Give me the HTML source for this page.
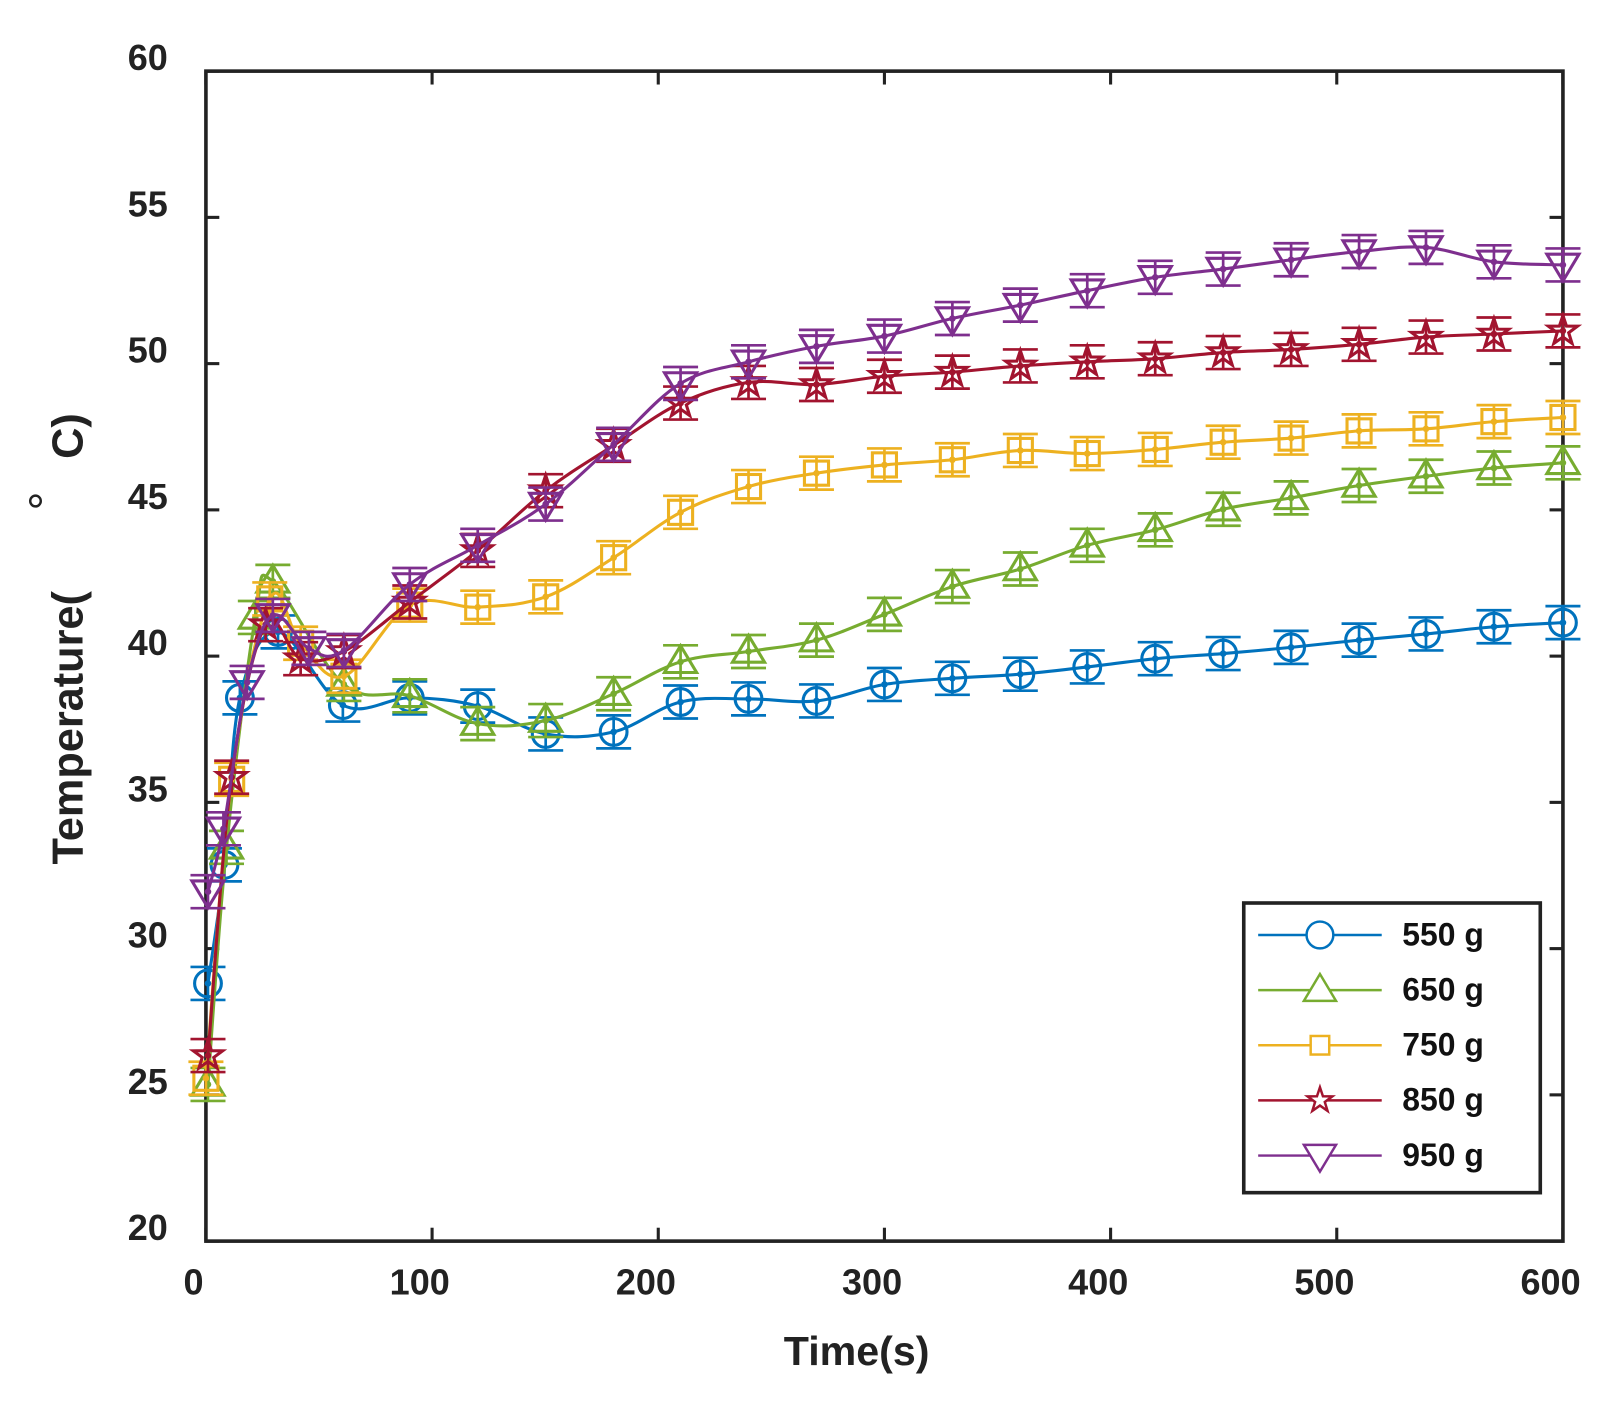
<!DOCTYPE html>
<html><head><meta charset="utf-8"><style>html,body{margin:0;padding:0;background:#fff}svg{display:block}</style></head>
<body>
<svg id="s" width="1614" height="1401" viewBox="0 1 1567.6 1359.1" preserveAspectRatio="none" xmlns="http://www.w3.org/2000/svg" font-family="Liberation Sans, Arial, sans-serif" font-weight="bold">
<rect x="0" y="0" width="1600" height="1400" fill="#fff"/>
<g id="axes"></g>
<g id="data"></g>
<g id="leg"></g>
<text x="832" y="1325" font-size="40" text-anchor="middle" fill="#222">Time(s)</text>
<text transform="translate(80,707) rotate(-90)" font-size="42" text-anchor="middle" fill="#222">Temperature(</text>
<text transform="translate(80,424) rotate(-90)" font-size="42" text-anchor="middle" fill="#222">C)</text>
<text transform="translate(60,487) rotate(-90)" font-size="46" text-anchor="middle" font-weight="normal" fill="#222">°</text>
</svg>
<script>
const NS="http://www.w3.org/2000/svg";
function el(p,t,a){const e=document.createElementNS(NS,t);for(const k in a)e.setAttribute(k,a[k]);p.appendChild(e);return e;}
const ax=document.getElementById('axes'),dg=document.getElementById('data'),lg=document.getElementById('leg');
const L=200,R=1518,T=70,B=1205;
for(let k=0;k<=6;k++){const x=L+(R-L)*k/6;
 el(ax,'line',{x1:x,y1:B,x2:x,y2:B-13,stroke:'#222','stroke-width':3});
 el(ax,'line',{x1:x,y1:T,x2:x,y2:T+13,stroke:'#222','stroke-width':3});
 const t=el(ax,'text',{x:x-12,y:1257,'font-size':35,'text-anchor':'middle',fill:'#222'});t.textContent=k*100;}
for(let k=0;k<=8;k++){const y=B-(B-T)*k/8;
 el(ax,'line',{x1:L,y1:y,x2:L+13,y2:y,stroke:'#222','stroke-width':3});
 el(ax,'line',{x1:R,y1:y,x2:R-13,y2:y,stroke:'#222','stroke-width':3});
 const t=el(ax,'text',{x:163,y:y-1,'font-size':35,'text-anchor':'end',fill:'#222'});t.textContent=20+5*k;}
el(ax,'rect',{x:L,y:T,width:R-L,height:B-T,fill:'none',stroke:'#222','stroke-width':3.5});
const S=[
{c:'#0072BD',m:'o',p:[[202,955],[218,840],[233,678],[270,614],[333,685],[398,678],[464,686],[530,713],[596,711],[661,682],[727,679],[793,681],[859,665],[925,659],[991,655],[1056,648],[1122,640],[1188,635],[1254,629],[1320,622],[1385,616],[1451,609],[1518,605]]},
{c:'#77AC30',m:'^',p:[[202,1053],[220,823],[248,600],[265,565],[334,665],[398,676],[464,703],[530,700],[596,674],[661,643],[727,633],[793,622],[859,597],[925,570],[991,553],[1056,530],[1122,515],[1188,495],[1254,484],[1320,472],[1385,463],[1451,455],[1518,450]]},
{c:'#EDB120',m:'s',p:[[200,1047],[225,757],[262,582],[292,625],[334,657],[398,588],[464,590],[530,580],[596,542],[661,498],[727,473],[793,460],[859,452],[925,447],[991,438],[1056,441],[1122,437],[1188,430],[1254,426],[1320,419],[1385,417],[1451,410],[1518,406]]},
{c:'#A2142F',m:'*',p:[[202,1025],[225,755],[258,607],[292,640],[334,633],[398,585],[464,535],[530,477],[596,433],[661,392],[727,372],[793,374],[859,366],[925,362],[991,356],[1056,352],[1122,349],[1188,343],[1254,340],[1320,335],[1385,328],[1451,325],[1518,322]]},
{c:'#7E2F8E',m:'v',p:[[202,866],[217,805],[240,663],[265,598],[300,630],[334,632],[398,568],[464,530],[530,490],[596,432],[661,373],[727,352],[793,337],[859,327],[925,310],[991,297],[1056,283],[1122,270],[1188,262],[1254,253],[1320,245],[1385,241],[1451,255],[1518,258]]}
];
function path(p){let d='M'+p[0][0]+','+p[0][1];
 for(let i=0;i<p.length-1;i++){const p0=p[Math.max(0,i-1)],p1=p[i],p2=p[i+1],p3=p[Math.min(p.length-1,i+2)];
  const t=0.35;const c1=[p1[0]+(p2[0]-p0[0])*t/2,p1[1]+(p2[1]-p0[1])*t/2],c2=[p2[0]-(p3[0]-p1[0])*t/2,p2[1]-(p3[1]-p1[1])*t/2];
  d+=`C${c1[0]},${c1[1]} ${c2[0]},${c2[1]} ${p2[0]},${p2[1]}`;}
 return d;}
function marker(g,m,x,y,c,r,w){const a={fill:'none',stroke:c,'stroke-width':w||3};
 if(m=='o')el(g,'circle',Object.assign({cx:x,cy:y,r:r},a));
 else if(m=='s')el(g,'rect',Object.assign({x:x-r*0.9,y:y-r*0.9,width:r*1.8,height:r*1.8},a));
 else if(m=='^')el(g,'polygon',Object.assign({points:`${x},${y-r*1.2} ${x-r*1.2},${y+r*0.8} ${x+r*1.2},${y+r*0.8}`},a));
 else if(m=='v')el(g,'polygon',Object.assign({points:`${x},${y+r*1.2} ${x-r*1.2},${y-r*0.8} ${x+r*1.2},${y-r*0.8}`},a));
 else {let pts=[];for(let i=0;i<10;i++){const rr=i%2?r*0.45:r*1.15;const an=-Math.PI/2+i*Math.PI/5;pts.push((x+rr*Math.cos(an)).toFixed(1)+','+(y+rr*Math.sin(an)).toFixed(1));}
  el(g,'polygon',Object.assign({points:pts.join(' ')},a));}}
S.forEach(s=>{
 el(dg,'path',{d:path(s.p),fill:'none',stroke:s.c,'stroke-width':3});
 s.p.forEach(([x,y])=>{
  el(dg,'line',{x1:x,y1:y-16,x2:x,y2:y+16,stroke:s.c,'stroke-width':2.6});
  el(dg,'line',{x1:x-17,y1:y-16,x2:x+17,y2:y-16,stroke:s.c,'stroke-width':2.6});
  el(dg,'line',{x1:x-17,y1:y+16,x2:x+17,y2:y+16,stroke:s.c,'stroke-width':2.6});
  marker(dg,s.m,x,y,s.c,13,3);
  el(dg,'circle',{cx:x,cy:y,r:3.2,fill:s.c});
 });
});
el(lg,'rect',{x:1208,y:877,width:288,height:281,fill:'#fff',stroke:'#222','stroke-width':3.5});
const names=['550 g','650 g','750 g','850 g','950 g'];
S.forEach((s,i)=>{const y=908+i*53.5;
 el(lg,'line',{x1:1222,y1:y,x2:1342,y2:y,stroke:s.c,'stroke-width':2.4});
 const m=s.m;const r=m=='s'?10:(m=='*'?11:13);
 const g=el(lg,'g',{});marker(g,m,1282,y,s.c,r,2.4);
 g.querySelectorAll('*').forEach(e=>e.setAttribute('fill','#fff'));
 const t=el(lg,'text',{x:1362,y:y+10,'font-size':31,fill:'#111'});t.textContent=names[i];});
</script>
</body></html>
